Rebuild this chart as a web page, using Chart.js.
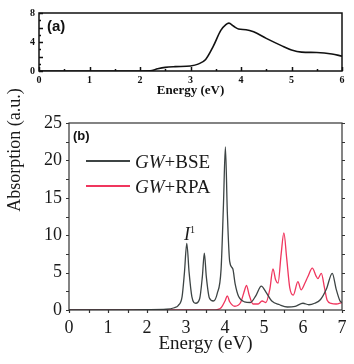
<!DOCTYPE html>
<html>
<head>
<meta charset="utf-8">
<script src="https://cdn.jsdelivr.net/npm/chart.js@4"></script>
<style>
  body { margin: 0; background: #fff; }
  #wrap { position: relative; width: 354px; height: 364px; overflow: hidden; }
  canvas { position: absolute; left: 0; }
  .lbl { position: absolute; white-space: nowrap; line-height: 1; color: #1a1a1a; }
  .serif { font-family: "Liberation Serif", "Times New Roman", serif; }
  .sans { font-family: "Liberation Sans", Arial, sans-serif; font-weight: bold; }
  .key { position: absolute; height: 2px; }
</style>
</head>
<body>
<div id="wrap">
  <canvas id="chartA" width="354" height="100" style="top:0"></canvas>
  <canvas id="chartB" width="354" height="264" style="top:100px"></canvas>

  <div class="lbl serif" id="ytitle" style="font-size:18px;left:14px;top:150px;transform:translate(-50%,-50%) rotate(-90deg)">Absorption (a.u.)</div>
  <div class="lbl sans" style="font-size:15px;left:47px;top:18px;color:#111">(a)</div>
  <div class="lbl sans" style="font-size:13px;left:73px;top:129px;color:#111">(b)</div>

  <div class="key" id="keyBSE" style="left:86px;top:160px;width:44px"></div>
  <div class="lbl serif" style="font-size:19px;left:135px;top:152px"><i>GW</i>+BSE</div>
  <div class="key" id="keyRPA" style="left:86px;top:185px;width:44px"></div>
  <div class="lbl serif" style="font-size:19px;left:135px;top:177px"><i>GW</i>+RPA</div>

  <div class="lbl serif" style="font-size:18px;left:184px;top:225px"><i>I</i><sup style="font-size:10px;vertical-align:7px">1</sup></div>
</div>

<script>
// panel (a)
const energyA = [0, 1, 2, 2.2, 2.35, 2.5, 2.7, 3.0, 3.15, 3.3, 3.45, 3.6, 3.7, 3.76, 3.85, 3.95, 4.1, 4.25, 4.5, 4.8, 5.0, 5.2, 5.5, 5.8, 6.0];
const absorptionA = [0, 0, 0, 0.02, 0.3, 0.5, 0.6, 0.7, 0.95, 1.6, 3.4, 5.6, 6.4, 6.6, 6.2, 5.8, 5.7, 5.4, 4.5, 3.5, 2.9, 2.6, 2.55, 2.35, 2.05];
const xTicksA = [0, 1, 2, 3, 4, 5, 6];
const yTicksA = [0, 2, 4, 6, 8];

// panel (b)
const energyBSE = [0, 1, 2, 2.5, 2.7, 2.8, 2.9, 2.96, 3.02, 3.08, 3.15, 3.25, 3.35, 3.42, 3.47, 3.52, 3.6, 3.7, 3.8, 3.9, 3.96, 4.01, 4.06, 4.12, 4.2, 4.26, 4.35, 4.5, 4.65, 4.8, 4.93, 5.05, 5.2, 5.4, 5.6, 5.8, 6.0, 6.15, 6.3, 6.45, 6.6, 6.75, 6.85, 6.95, 7.0];
const absBSE = [0, 0, 0.05, 0.1, 0.3, 0.6, 1.8, 5, 8.9, 5, 1.8, 0.9, 1.5, 4.5, 7.6, 4.5, 1.6, 1.2, 2.2, 5.5, 14, 21.8, 13, 6.5, 5.5, 3.5, 1.8, 1.1, 1.0, 2.0, 3.2, 2.4, 1.2, 0.7, 0.4, 0.5, 0.9, 0.7, 0.9, 1.4, 2.8, 4.9, 2.8, 1.2, 1.0];
const energyRPA = [0, 3.7, 3.8, 3.9, 4.0, 4.06, 4.12, 4.25, 4.4, 4.5, 4.55, 4.62, 4.72, 4.85, 4.95, 5.05, 5.15, 5.23, 5.3, 5.36, 5.44, 5.51, 5.58, 5.66, 5.75, 5.87, 5.95, 6.05, 6.12, 6.24, 6.33, 6.38, 6.47, 6.55, 6.62, 6.72, 6.85, 7.0];
const absRPA = [0, 0, 0.05, 0.3, 1.2, 1.9, 1.1, 0.5, 1.0, 2.6, 3.3, 2.0, 0.8, 0.8, 1.2, 1.0, 2.8, 5.5, 4.0, 3.6, 7.5, 10.3, 7, 3, 2.0, 3.8, 2.7, 3.6, 4.4, 5.6, 4.6, 4.2, 4.9, 3, 1.3, 0.9, 0.8, 1.0];
const xTicksB = [0, 1, 2, 3, 4, 5, 6, 7];
const yTicksB = [0, 5, 10, 15, 20, 25];

const colorBSE = '#3d4444';
const colorRPA = '#f0365e';
document.getElementById('keyBSE').style.background = colorBSE;
document.getElementById('keyRPA').style.background = colorRPA;

const serif = '"Liberation Serif", "Times New Roman", serif';

function pts(xs, ys) {
  return xs.map((x, i) => ({ x: x, y: ys[i] }));
}

// frame + major/minor tick marks drawn through the chart's own scales
const frameTicks = {
  id: 'frameTicks',
  afterDatasetsDraw(chart, args, o) {
    const { ctx, chartArea: a, scales: { x, y } } = chart;
    ctx.save();
    ctx.strokeStyle = o.color;
    ctx.lineWidth = o.width;
    ctx.strokeRect(a.left, a.top, a.right - a.left, a.bottom - a.top);
    const d = o.inward ? -1 : 1;
    ctx.beginPath();
    const steps = Math.round((x.max - x.min) / o.xMinor);
    for (let i = 0; i <= steps; i++) {
      const v = x.min + i * o.xMinor;
      const len = (i % Math.round(o.xMajor / o.xMinor) === 0) ? o.major : o.minor;
      const px = Math.round(x.getPixelForValue(v)) + 0.5;
      ctx.moveTo(px, a.bottom);
      ctx.lineTo(px, a.bottom + d * len);
    }
    const ysteps = Math.round((y.max - y.min) / o.yMinor);
    for (let i = 0; i <= ysteps; i++) {
      const v = y.min + i * o.yMinor;
      const len = (i % Math.round(o.yMajor / o.yMinor) === 0) ? o.major : o.minor;
      const py = Math.round(y.getPixelForValue(v)) + 0.5;
      ctx.moveTo(a.left, py);
      ctx.lineTo(a.left - d * len, py);
      if (o.right) {
        ctx.moveTo(a.right, py);
        ctx.lineTo(a.right + d * len, py);
      }
    }
    ctx.stroke();
    ctx.restore();
  }
};

new Chart(document.getElementById('chartA'), {
  type: 'line',
  data: {
    datasets: [{
      data: pts(energyA, absorptionA),
      borderColor: '#111',
      borderWidth: 1.6,
      pointRadius: 0,
      cubicInterpolationMode: 'monotone',
      fill: false
    }]
  },
  options: {
    responsive: false,
    animation: false,
    layout: { padding: { top: 13, right: 12, left: 0, bottom: 0 } },
    plugins: {
      legend: { display: false },
      tooltip: { enabled: false },
      frameTicks: { color: '#111', width: 1.5, inward: true, xMajor: 1, xMinor: 0.5, yMajor: 2, yMinor: 1, major: 4, minor: 2, right: false }
    },
    scales: {
      x: {
        type: 'linear', min: 0, max: 6,
        afterBuildTicks: s => { s.ticks = xTicksA.map(v => ({ value: v })); },
        grid: { display: false, drawTicks: false },
        border: { display: false },
        ticks: { padding: 3, color: '#111', font: { family: serif, size: 10, weight: 'bold' } },
        title: { display: true, text: 'Energy (eV)', color: '#111', font: { family: serif, size: 13, weight: 'bold' }, padding: { top: 0, bottom: 2 } },
        afterFit: s => { s.height = 29; }
      },
      y: {
        min: 0, max: 8,
        afterBuildTicks: s => { s.ticks = yTicksA.map(v => ({ value: v })); },
        grid: { display: false, drawTicks: false },
        border: { display: false },
        ticks: { padding: 4, color: '#111', font: { family: serif, size: 10, weight: 'bold' } },
        afterFit: s => { s.width = 39; }
      }
    }
  },
  plugins: [frameTicks]
});

new Chart(document.getElementById('chartB'), {
  type: 'line',
  data: {
    datasets: [{
      label: 'GW+BSE',
      data: pts(energyBSE, absBSE),
      borderColor: colorBSE,
      borderWidth: 1.3,
      pointRadius: 0,
      cubicInterpolationMode: 'monotone',
      fill: false
    }, {
      label: 'GW+RPA',
      data: pts(energyRPA, absRPA),
      borderColor: colorRPA,
      borderWidth: 1.3,
      pointRadius: 0,
      cubicInterpolationMode: 'monotone',
      fill: false
    }]
  },
  options: {
    responsive: false,
    animation: false,
    layout: { padding: { top: 23, right: 12, left: 0, bottom: 0 } },
    plugins: {
      legend: { display: false },
      tooltip: { enabled: false },
      frameTicks: { color: '#333', width: 1.2, inward: false, xMajor: 1, xMinor: 0.5, yMajor: 5, yMinor: 2.5, major: 3, minor: 3, right: true }
    },
    scales: {
      x: {
        type: 'linear', min: 0, max: 7,
        afterBuildTicks: s => { s.ticks = xTicksB.map(v => ({ value: v })); },
        grid: { display: false, drawTicks: false },
        border: { display: false },
        ticks: { padding: 7, color: '#1a1a1a', font: { family: serif, size: 18 } },
        title: { display: true, text: 'Energy (eV)', color: '#1a1a1a', font: { family: serif, size: 19 }, padding: { top: 0, bottom: 9 } },
        afterFit: s => { s.height = 54; }
      },
      y: {
        min: 0, max: 25,
        afterBuildTicks: s => { s.ticks = yTicksB.map(v => ({ value: v })); },
        grid: { display: false, drawTicks: false },
        border: { display: false },
        ticks: { padding: 7, color: '#1a1a1a', font: { family: serif, size: 18 } },
        afterFit: s => { s.width = 69; }
      }
    }
  },
  plugins: [frameTicks]
});
</script>
</body>
</html>
